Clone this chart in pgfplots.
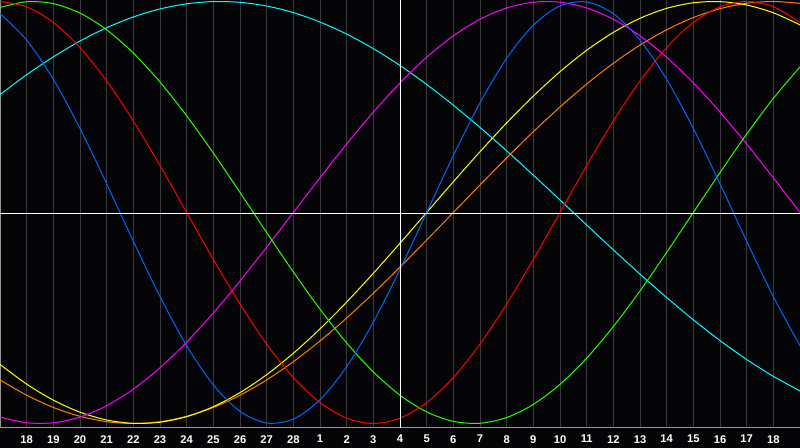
\documentclass[border=0pt]{standalone}
\usepackage{pgfplots}
\pgfplotsset{compat=1.18}
\usepackage{pgfplotstable}
\usepackage{fontspec}
\setmainfont{Liberation Sans}
\definecolor{bg}{RGB}{5,5,8}
\definecolor{gridc}{RGB}{58,58,60}
\definecolor{framec}{RGB}{150,150,150}
\definecolor{cblue}{RGB}{0,102,255}
\definecolor{cred}{RGB}{255,0,0}
\definecolor{cgreen}{RGB}{40,255,0}
\definecolor{cmag}{RGB}{255,0,255}
\definecolor{cyel}{RGB}{255,255,0}
\definecolor{corange}{RGB}{255,128,0}
\definecolor{ccyan}{RGB}{0,255,255}
\pgfplotstableread{
d b r g m y o c
0 0.9423 1 0.9718 -0.9694 -0.7199 -0.7934 0.5586
1 0.8170 0.9749 0.9989 -0.9966 -0.8133 -0.8660 0.6528
2 0.6311 0.9010 0.9898 -0.9966 -0.8894 -0.9239 0.7375
3 0.3984 0.7818 0.9450 -0.9694 -0.9464 -0.9659 0.8125
4 0.1362 0.6235 0.8660 -0.9158 -0.9834 -0.9914 0.8757
5 -0.1362 0.4339 0.7557 -0.8372 -0.9993 -1 0.9267
6 -0.3984 0.2225 0.6182 -0.7357 -0.9940 -0.9914 0.9646
7 -0.6311 0 0.4582 -0.6142 -0.9675 -0.9659 0.9890
8 -0.8170 -0.2225 0.2817 -0.4759 -0.9203 -0.9239 0.9996
9 -0.9423 -0.4339 0.0951 -0.3247 -0.8536 -0.8660 0.9961
10 -0.9977 -0.6235 -0.0951 -0.1646 -0.7687 -0.7934 0.9786
11 -0.9791 -0.7818 -0.2817 0 -0.6673 -0.7071 0.9473
12 -0.8879 -0.9010 -0.4582 0.1646 -0.5516 -0.6088 0.9024
13 -0.7308 -0.9749 -0.6182 0.3247 -0.4245 -0.5 0.8456
14 -0.5196 -1 -0.7557 0.4759 -0.2881 -0.3827 0.7765
15 -0.2698 -0.9749 -0.8660 0.6142 -0.1456 -0.2588 0.6966
16 0 -0.9010 -0.9450 0.7357 0 -0.1305 0.6068
17 0.2698 -0.7818 -0.9898 0.8372 0.1456 0 0.5085
18 0.5196 -0.6235 -0.9989 0.9158 0.2881 0.1305 0.4031
19 0.7308 -0.4339 -0.9718 0.9694 0.4245 0.2588 0.2921
20 0.8879 -0.2225 -0.9096 0.9966 0.5516 0.3827 0.1769
21 0.9791 0 -0.8146 0.9966 0.6673 0.5 0.0592
22 0.9977 0.2225 -0.6901 0.9694 0.7687 0.6088 -0.0592
23 0.9423 0.4339 -0.5406 0.9158 0.8536 0.7071 -0.1769
24 0.8170 0.6235 -0.3717 0.8372 0.9203 0.7934 -0.2921
25 0.6311 0.7818 -0.1893 0.7357 0.9675 0.8660 -0.4031
26 0.3984 0.9010 0 0.6142 0.9940 0.9239 -0.5085
27 0.1362 0.9749 0.1893 0.4759 0.9993 0.9659 -0.6068
28 -0.1362 1 0.3717 0.3247 0.9834 0.9914 -0.6966
29 -0.3984 0.9749 0.5406 0.1646 0.9464 1 -0.7765
30 -0.6311 0.9010 0.6901 0 0.8894 0.9914 -0.8456
}\bio
\begin{document}
\begin{tikzpicture}
\path[use as bounding box] (0,-15pt) rectangle (600pt,321pt);
\fill[bg] (0,-15pt) rectangle (600pt,321pt);
\begin{axis}[
  at={(0,0)}, anchor=south west,
  width=600pt, height=321pt, scale only axis,
  xmin=0, xmax=30, ymin=-1.0213, ymax=1.0071,
  xtick={1,...,29},
  xticklabels={18,19,20,21,22,23,24,25,26,27,28,1,2,3,4,5,6,7,8,9,10,11,12,13,14,15,16,17,18},
  ytick=\empty,
  major tick length=0pt,
  xmajorgrids,
  major grid style={gridc, line width=0.75pt},
  axis line style={framec, line width=0.75pt},
  xticklabel style={font=\bfseries\fontsize{8.4pt}{8.4pt}\selectfont, text=white, inner sep=0pt, anchor=north, yshift=-5.25pt},
  every axis plot/.append style={line width=0.75pt, smooth, no markers},
]
\addplot[ccyan] table[x=d,y=c] {\bio};
\addplot[corange] table[x=d,y=o] {\bio};
\addplot[cyel] table[x=d,y=y] {\bio};
\addplot[cmag] table[x=d,y=m] {\bio};
\addplot[cgreen] table[x=d,y=g] {\bio};
\addplot[cred] table[x=d,y=r] {\bio};
\addplot[cblue] table[x=d,y=b] {\bio};
\draw[white, line width=0.75pt] (axis cs:15,-1.0213) -- (axis cs:15,1.0071);
\draw[white, line width=0.75pt] (axis cs:0,-0.0071) -- (axis cs:30,-0.0071);
\end{axis}
\end{tikzpicture}
\end{document}
